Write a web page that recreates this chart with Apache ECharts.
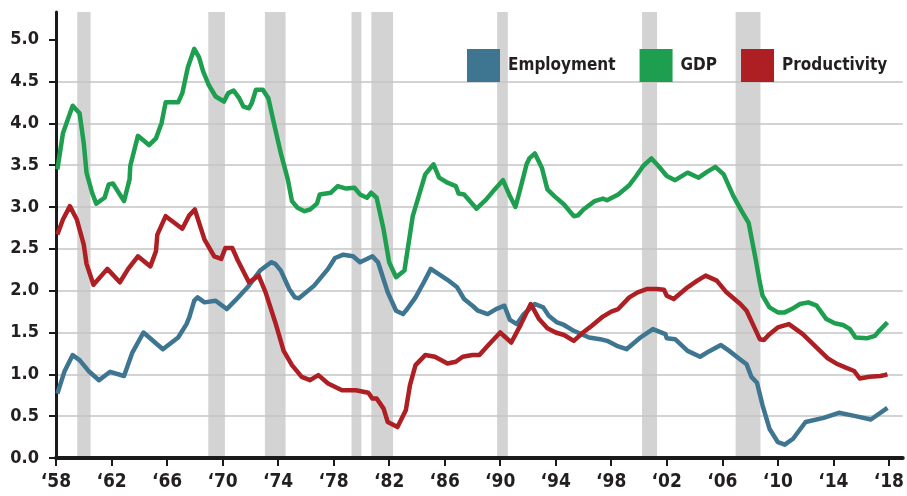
<!DOCTYPE html>
<html lang="en">
<head>
  <meta charset="UTF-8">
  <title>Employment, GDP and Productivity</title>
  <script src="https://cdn.jsdelivr.net/npm/echarts@6/dist/echarts.min.js"></script>
  <style>
    html, body { margin: 0; padding: 0; background: #fff; }
    #main { width: 907px; height: 496px; }
  </style>
</head>
<body>
  <div id="main"></div>

  <script>
    // recession shading (start / end, in chart years)
    const recessionStarts = [1959.53, 1968.97, 1973.05, 1979.29, 1980.72, 1989.78, 2000.22, 2006.96];
    const recessionEnds   = [1960.49, 1970.17, 1974.54, 1980.0, 1982.28, 1990.55, 2001.3, 2008.75];

    const empYears = [1958.1, 1958.6, 1959.2, 1959.7, 1960.4, 1961.1, 1961.9, 1962.9, 1963.5, 1964.3,
      1965.7, 1966.8, 1967.4, 1967.6, 1967.96, 1968.2, 1968.7, 1969.5, 1970.3, 1970.9,
      1971.8, 1972.7, 1973.5, 1973.8, 1974.2, 1974.8, 1975.2, 1975.5, 1976.6, 1977.6,
      1978.1, 1978.7, 1979.4, 1979.9, 1980.8, 1981.2, 1981.9, 1982.5, 1983.0, 1983.3,
      1983.9, 1984.5, 1985.0, 1986.2, 1986.9, 1987.4, 1988.0, 1988.4, 1989.1, 1989.7,
      1990.3, 1990.7, 1991.2, 1991.7, 1992.5, 1993.1, 1993.5, 1994.1, 1994.6, 1995.3,
      1996.4, 1997.2, 1997.7, 1998.4, 1999.1, 2000.1, 2001.0, 2001.9, 2002.0, 2002.6,
      2003.5, 2004.4, 2005.1, 2005.9, 2006.5, 2007.2, 2007.75, 2008.1, 2008.5, 2008.9,
      2009.4, 2010.0, 2010.5, 2011.1, 2012.0, 2013.3, 2014.4, 2015.6, 2016.7, 2017.9];
    const empValues = [0.77, 1.03, 1.23, 1.17, 1.03, 0.93, 1.03, 0.98, 1.26, 1.50,
      1.30, 1.44, 1.60, 1.68, 1.88, 1.92, 1.86, 1.88, 1.78, 1.88,
      2.04, 2.24, 2.34, 2.32, 2.24, 2.02, 1.92, 1.91, 2.06, 2.26,
      2.39, 2.43, 2.41, 2.34, 2.41, 2.34, 1.98, 1.76, 1.72, 1.78,
      1.92, 2.10, 2.26, 2.13, 2.04, 1.90, 1.82, 1.76, 1.72, 1.78,
      1.82, 1.65, 1.60, 1.72, 1.84, 1.80, 1.70, 1.62, 1.59, 1.52,
      1.44, 1.42, 1.40, 1.34, 1.30, 1.44, 1.54, 1.48, 1.43, 1.42,
      1.28, 1.21, 1.28, 1.35, 1.28, 1.19, 1.12, 0.97, 0.90, 0.63,
      0.35, 0.19, 0.16, 0.23, 0.43, 0.48, 0.54, 0.50, 0.46, 0.60];

    const gdpYears = [1958.1, 1958.5, 1959.2, 1959.7, 1960.0, 1960.2, 1960.6, 1960.9, 1961.5, 1961.8,
      1962.1, 1962.9, 1963.3, 1963.35, 1963.9, 1964.7, 1965.2, 1965.6, 1965.9, 1966.8,
      1967.1, 1967.5, 1967.96, 1968.3, 1968.6, 1969.0, 1969.5, 1970.1, 1970.4, 1970.8,
      1971.2, 1971.5, 1971.9, 1972.1, 1972.4, 1972.9, 1973.3, 1973.7, 1974.2, 1974.7,
      1975.0, 1975.4, 1975.9, 1976.3, 1976.8, 1977.0, 1977.8, 1978.3, 1978.9, 1979.5,
      1979.9, 1980.4, 1980.7, 1981.1, 1981.6, 1982.0, 1982.5, 1983.1, 1983.7, 1984.6,
      1985.2, 1985.6, 1986.2, 1986.8, 1987.0, 1987.4, 1988.3, 1989.0, 1989.6, 1990.2,
      1990.7, 1991.1, 1991.5, 1991.9, 1992.1, 1992.5, 1993.0, 1993.4, 1993.9, 1994.6,
      1995.3, 1995.6, 1996.0, 1996.8, 1997.4, 1997.7, 1998.5, 1999.3, 1999.8, 2000.3,
      2000.9, 2001.4, 2002.0, 2002.6, 2003.5, 2004.3, 2004.9, 2005.5, 2006.1, 2006.8,
      2007.4, 2007.9, 2008.2, 2008.4, 2008.7, 2008.9, 2009.4, 2010.0, 2010.5, 2011.0,
      2011.6, 2012.2, 2012.8, 2013.5, 2014.1, 2014.7, 2015.2, 2015.6, 2016.4, 2017.0,
      2017.3, 2017.9];
    const gdpValues = [3.45, 3.88, 4.21, 4.12, 3.76, 3.41, 3.17, 3.04, 3.11, 3.27,
      3.28, 3.07, 3.33, 3.49, 3.85, 3.74, 3.82, 4.00, 4.25, 4.25,
      4.36, 4.67, 4.89, 4.79, 4.62, 4.46, 4.32, 4.26, 4.36, 4.39,
      4.30, 4.20, 4.18, 4.24, 4.40, 4.40, 4.30, 4.00, 3.64, 3.33,
      3.07, 2.99, 2.95, 2.97, 3.04, 3.15, 3.17, 3.25, 3.22, 3.23,
      3.15, 3.11, 3.17, 3.11, 2.73, 2.34, 2.16, 2.24, 2.89, 3.39,
      3.51, 3.35, 3.29, 3.25, 3.16, 3.15, 2.98, 3.09, 3.21, 3.32,
      3.13, 3.00, 3.25, 3.51, 3.58, 3.64, 3.47, 3.21, 3.13, 3.03,
      2.89, 2.90, 2.97, 3.07, 3.10, 3.08, 3.15, 3.26, 3.37, 3.49,
      3.58, 3.49, 3.37, 3.32, 3.41, 3.35, 3.42, 3.48, 3.39, 3.13,
      2.95, 2.81, 2.55, 2.38, 2.10, 1.94, 1.80, 1.74, 1.74, 1.78,
      1.84, 1.86, 1.82, 1.66, 1.61, 1.59, 1.54, 1.44, 1.43, 1.46,
      1.52, 1.62];

    const prodYears = [1958.1, 1958.5, 1959.0, 1959.5, 1960.0, 1960.2, 1960.7, 1961.7, 1962.6, 1963.2,
      1963.9, 1964.8, 1965.2, 1965.3, 1965.9, 1967.1, 1967.6, 1968.0, 1968.7, 1969.4,
      1969.9, 1970.2, 1970.7, 1971.1, 1971.9, 1972.6, 1973.1, 1973.8, 1974.4, 1975.0,
      1975.7, 1976.3, 1976.9, 1977.6, 1978.6, 1979.6, 1980.5, 1980.8, 1981.1, 1981.6,
      1981.9, 1982.6, 1983.2, 1983.5, 1983.9, 1984.6, 1985.3, 1986.2, 1986.8, 1987.3,
      1988.0, 1988.5, 1989.2, 1990.0, 1990.8, 1991.5, 1992.2, 1992.8, 1993.4, 1994.0,
      1994.6, 1995.3, 1995.9, 1996.6, 1997.4, 1998.0, 1998.5, 1999.3, 1999.9, 2000.6,
      2001.3, 2001.8, 2002.0, 2002.5, 2003.5, 2004.2, 2004.8, 2005.6, 2006.3, 2007.3,
      2007.75, 2008.2, 2008.7, 2009.0, 2009.4, 2010.0, 2010.8, 2011.8, 2012.8, 2013.6,
      2014.2, 2014.9, 2015.5, 2015.9, 2016.6, 2017.4, 2017.9];
    const prodValues = [2.67, 2.85, 3.01, 2.85, 2.55, 2.32, 2.07, 2.26, 2.10, 2.26,
      2.41, 2.29, 2.47, 2.67, 2.89, 2.74, 2.90, 2.97, 2.61, 2.41,
      2.38, 2.51, 2.51, 2.36, 2.10, 2.18, 1.98, 1.62, 1.28, 1.11,
      0.97, 0.93, 0.99, 0.89, 0.81, 0.81, 0.78, 0.71, 0.71, 0.59,
      0.43, 0.37, 0.57, 0.87, 1.11, 1.23, 1.21, 1.13, 1.15, 1.21,
      1.23, 1.23, 1.36, 1.50, 1.38, 1.60, 1.84, 1.66, 1.55, 1.50,
      1.47, 1.40, 1.49, 1.58, 1.69, 1.75, 1.78, 1.92, 1.98, 2.02,
      2.02, 2.01, 1.94, 1.90, 2.04, 2.12, 2.18, 2.12, 1.98, 1.84,
      1.76, 1.60, 1.42, 1.41, 1.48, 1.56, 1.60, 1.48, 1.32, 1.19,
      1.13, 1.08, 1.04, 0.95, 0.97, 0.98, 1.00];

    const xTickYears = [1958, 1962, 1966, 1970, 1974, 1978, 1982, 1986, 1990, 1994, 1998, 2002, 2006, 2010, 2014, 2018];
    const yTicks = [0, 0.5, 1, 1.5, 2, 2.5, 3, 3.5, 4, 4.5, 5];

    const zip = (xs, ys) => xs.map((x, i) => [x, ys[i]]);

    const FONT = "'Liberation Sans Narrow', 'DejaVu Sans Condensed', 'Noto Sans', sans-serif";
    const Y_MAX = 5.33;

    const chart = echarts.init(document.getElementById('main'));

    const lineSeries = (name, color, data) => ({
      name: name,
      type: 'line',
      data: data,
      showSymbol: false,
      symbol: 'none',
      z: 3,
      lineStyle: { color: color, width: 4.5, join: 'round' },
      itemStyle: { color: color }
    });

    const option = {
      animation: false,
      grid: { left: 56, right: 0, top: 12, bottom: 38 },
      legend: {
        left: 462,
        top: 44,
        width: 445,
        itemWidth: 33,
        itemHeight: 33,
        itemGap: 24,
        icon: 'rect',
        textStyle: { fontFamily: FONT, fontWeight: 'bold', fontSize: 17, color: '#231f20', padding: [0, 0, 0, 3] },
        data: ['Employment', 'GDP', 'Productivity']
      },
      xAxis: {
        type: 'value',
        min: 1958,
        max: 2019,
        interval: 4,
        splitLine: { show: false },
        axisLine: { lineStyle: { color: '#1a1a1a', width: 4 } },
        axisTick: { show: true, length: 8, customValues: xTickYears, lineStyle: { color: '#1a1a1a', width: 2 } },
        axisLabel: {
          margin: 15,
          customValues: xTickYears,
          fontFamily: FONT, fontWeight: 'bold', fontSize: 19, color: '#231f20',
          formatter: v => xTickYears.includes(v) ? '\u2018' + String(v).slice(2) : ''
        }
      },
      yAxis: {
        type: 'value',
        min: 0,
        max: Y_MAX,
        interval: 0.5,
        axisLine: { show: true, lineStyle: { color: '#1a1a1a', width: 3 } },
        axisTick: { show: true, length: 7, customValues: yTicks, lineStyle: { color: '#1a1a1a', width: 2 } },
        splitLine: { show: true, showMaxLine: false, showMinLine: false, lineStyle: { color: '#c4c4c4', width: 1.5 } },
        axisLabel: {
          margin: 17,
          customValues: yTicks,
          fontFamily: FONT, fontWeight: 'bold', fontSize: 18, color: '#231f20',
          formatter: v => yTicks.includes(v) ? v.toFixed(1) : ''
        }
      },
      series: [
        {
          name: 'Recessions',
          type: 'custom',
          z: -1,
          silent: true,
          renderItem: (params, api) => {
            const p0 = api.coord([api.value(0), Y_MAX]);
            const p1 = api.coord([api.value(1), 0]);
            return {
              type: 'rect',
              shape: { x: p0[0], y: p0[1], width: p1[0] - p0[0], height: p1[1] - p0[1] },
              style: { fill: '#d3d3d3' }
            };
          },
          encode: { x: [0, 1] },
          data: zip(recessionStarts, recessionEnds)
        },
        lineSeries('Employment', '#3e7591', zip(empYears, empValues)),
        lineSeries('GDP', '#1e9f4f', zip(gdpYears, gdpValues)),
        lineSeries('Productivity', '#ae1f24', zip(prodYears, prodValues))
      ]
    };

    chart.setOption(option);
    window.addEventListener('resize', chart.resize);
  </script>
</body>
</html>
